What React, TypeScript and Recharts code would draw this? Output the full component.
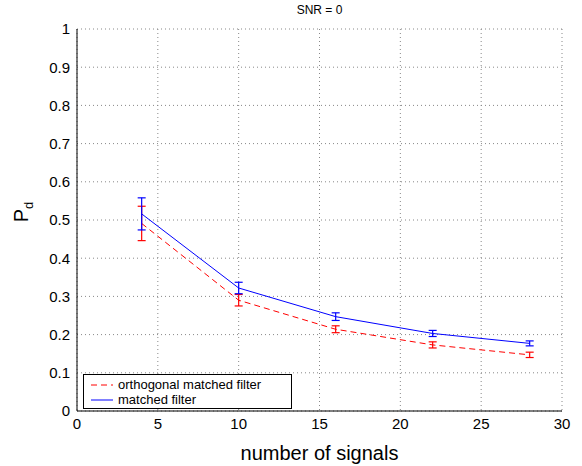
import React from 'react';
import { LineChart, Line, XAxis, YAxis, CartesianGrid, ErrorBar } from 'recharts';

// number of signals
const signals = [4, 10, 16, 22, 28];
// orthogonal matched filter
const omfPd = [0.491, 0.29, 0.214, 0.173, 0.147];
const omfErr = [0.045, 0.015, 0.009, 0.008, 0.007];
// matched filter
const mfPd = [0.516, 0.322, 0.247, 0.203, 0.177];
const mfErr = [0.042, 0.015, 0.01, 0.008, 0.0065];

const xTicks = [0, 5, 10, 15, 20, 25, 30];
const yTicks = [0, 0.1, 0.2, 0.3, 0.4, 0.5, 0.6, 0.7, 0.8, 0.9, 1];

const data = signals.map((n, i) => ({
  n,
  omf: omfPd[i],
  omfErr: omfErr[i],
  mf: mfPd[i],
  mfErr: mfErr[i],
}));

const FONT = '"Liberation Sans", Arial, sans-serif';

const LegendBox = () => (
  <div
    style={{
      position: 'absolute',
      left: 83,
      top: 374,
      border: '1px solid #000',
      background: '#fff',
      width: 209,
      height: 35,
      boxSizing: 'border-box',
      fontFamily: FONT,
      fontSize: 13,
      color: '#000',
      padding: '2px 0 0 4px',
      lineHeight: '15px',
    }}
  >
    <div style={{ display: 'flex', alignItems: 'center' }}>
      <svg width={30} height={10}>
        <line x1={3} y1={5} x2={25} y2={5} stroke="#ff0000" strokeDasharray="6 4" />
      </svg>
      <span>orthogonal matched filter</span>
    </div>
    <div style={{ display: 'flex', alignItems: 'center' }}>
      <svg width={30} height={10}>
        <line x1={3} y1={5} x2={25} y2={5} stroke="#0000ff" />
      </svg>
      <span>matched filter</span>
    </div>
  </div>
);

const YLabel = () => (
  <text x={28} y={212} transform="rotate(-90 28 212)" textAnchor="middle" fontFamily={FONT} fontSize={20} fill="#000">
    P<tspan fontSize={13} dy={5}>d</tspan>
  </text>
);

export default function App() {
  return (
    <div style={{ position: 'absolute', left: 0, top: 0, width: 582, height: 466, background: '#fff' }}>
      <div
        style={{
          position: 'absolute',
          top: 3,
          left: 77,
          width: 485,
          textAlign: 'center',
          fontFamily: FONT,
          fontSize: 12,
          color: '#000',
        }}
      >
        SNR = 0
      </div>
      <LineChart width={582} height={466} data={data} margin={{ top: 29, right: 20, bottom: 0, left: 0 }}>
        <CartesianGrid stroke="#888" strokeDasharray="1 3" />
        <XAxis
          dataKey="n"
          type="number"
          domain={[0, 30]}
          ticks={xTicks}
          height={55}
          stroke="#000"
          tickSize={0}
          tickMargin={7}
          tick={{ fill: '#000', fontSize: 15, fontFamily: FONT }}
          label={{ value: 'number of signals', position: 'insideBottom', offset: 6, fill: '#000', fontSize: 20, fontFamily: FONT }}
        />
        <YAxis
          type="number"
          domain={[0, 1]}
          ticks={yTicks}
          width={77}
          stroke="#000"
          tickSize={0}
          tickMargin={7}
          tick={{ fill: '#000', fontSize: 15, fontFamily: FONT }}
          label={<YLabel />}
        />
        <Line
          dataKey="omf"
          name="orthogonal matched filter"
          stroke="#ff0000"
          strokeWidth={1}
          strokeDasharray="6 4"
          dot={false}
          isAnimationActive={false}
        >
          <ErrorBar dataKey="omfErr" direction="y" width={4} stroke="#ff0000" strokeWidth={1.2} />
        </Line>
        <Line
          dataKey="mf"
          name="matched filter"
          stroke="#0000ff"
          strokeWidth={1}
          dot={false}
          isAnimationActive={false}
        >
          <ErrorBar dataKey="mfErr" direction="y" width={4} stroke="#0000ff" strokeWidth={1.2} />
        </Line>
      </LineChart>
      <LegendBox />
    </div>
  );
}
